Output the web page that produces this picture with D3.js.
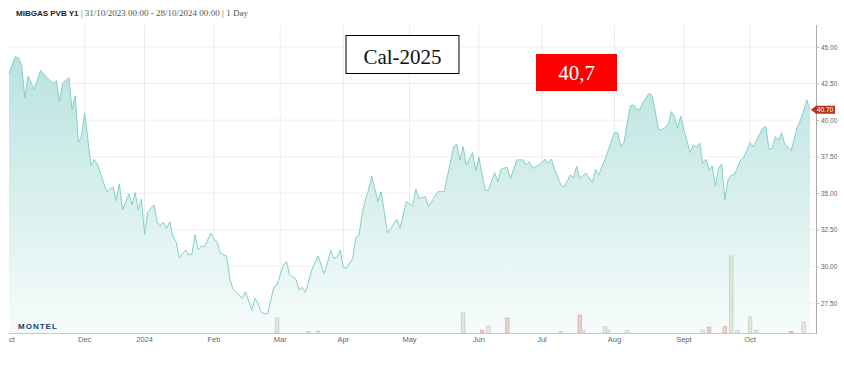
<!DOCTYPE html>
<html>
<head>
<meta charset="utf-8">
<script src="https://cdn.jsdelivr.net/npm/d3@7"></script>
<style>
  html, body { margin: 0; padding: 0; background: #fff; }
  svg { display: block; }
</style>
</head>
<body>
<div id="chart"></div>
<script>
// MIBGAS PVB Y1 (Cal-2025), daily settlement, trading-session index from 31/10/2023
const days = [0,2,3,4,5,6,8,10,12,14,15,16,17,19,20,21,22,23,24,26,27,28,31,33,34,35,36,38,39,40,41,42,43,44,46,47,
  48,49,50,51,52,53,54,56,57,58,59,60,61,62,64,65,66,67,69,70,71,74,75,77,78,79,80,82,84,85,87,88,89,91,92,93,94,96,98,
  100,102,103,104,105,106,107,109,110,111,112,113,114,115,117,118,119,120,123,124,126,128,129,130,132,133,136,138,
  141,142,143,144,145,147,148,149,151,152,154,155,156,158,159,161,163,164,165,166,168,170,171,172,173,175,176,178,179,
  180,181,183,185,186,187,189,192,193,194,195,197,198,199,200,201,203,204,206,207,209,210,211,212,213,214,216,217,218,
  219,220,221,222,223,224,225,226,227,228,229,230,232,233,235,236,239,240,241,242,243,244,245,246,248,250,251,253,254];
const prices = [43.2,44.34,44.25,43.77,41.5,43.0,42.1,43.4,42.9,42.5,42.7,41.3,42.5,42.9,40.7,41.65,38.5,38.87,40.5,36.93,37.3,37.0,35.1,35.45,34.5,35.64,33.86,34.95,34.2,35.04,33.86,34.6,32.2,33.74,34.2,33.0,
  32.83,32.99,32.6,33.06,32.03,31.69,30.6,31.13,30.78,30.85,32.15,31.13,31.4,31.35,32.27,31.86,31.69,30.9,30.7,29.2,28.44,27.82,28.27,27.0,27.82,27.43,26.84,26.75,28.6,28.73,30.1,30.33,29.42,29.12,28.39,28.57,28.2,29.76,30.71,
  29.48,31.08,30.56,30.63,31.12,29.94,29.87,30.56,31.99,32.15,33.63,34.54,35.22,36.18,34.43,35.11,33.74,32.27,33.22,32.6,34.43,34.13,35.27,34.66,34.77,34.08,35.11,35.11,
  38.19,38.37,37.28,38.19,36.93,37.78,36.55,37.46,35.22,35.18,36.41,35.79,36.64,36.78,35.98,37.28,37.28,36.93,37.16,36.71,36.93,37.32,37.05,37.34,36.64,35.57,35.41,36.25,36.02,
  36.87,36.02,36.37,35.72,36.64,36.25,37.32,39.14,39.14,38.19,38.46,40.97,41.04,40.74,40.74,41.2,41.84,41.65,39.33,39.33,39.67,40.58,40.24,39.44,40.28,39.33,37.78,38.3,38.14,
  38.42,37.05,37.32,36.59,36.87,35.5,36.71,37.0,34.54,35.91,36.25,36.25,37.28,37.46,38.46,38.19,39.44,39.56,38.0,38.08,38.87,38.64,39.14,38.37,37.91,39.56,40.0,41.38,40.7];

// traded volume (arbitrary units), kind: g = up, r = down, n = neutral
const volDays = [85,95,98,144,150,152,158,175,181,182,189,190,196,220,222,227,229,231,235,237,248,252];
const volumes = [15,1.5,2,20,3,6.5,15,1.5,18,3,6.5,3,2.5,3,6,6.5,77,2.5,16,2.5,1.5,11];
const volKinds = ['g','n','n','g','r','n','r','n','r','n','n','n','n','n','r','r','g','n','g','n','r','n'];

const monthTicks = [0,24,43,65,86,106,127,149,169,192,214,235];
const monthLabels = ['Oct','Dec','2024','Feb','Mar','Apr','May','Jun','Jul','Aug','Sept','Oct'];
const priceTicks = [27.5,30,32.5,35,37.5,40,42.5,45];

const lastPrice = 40.7;
const contract = 'Cal-2025';

const W = 844, H = 370;
const pL = 9, pR = 816, pT = 25, pB = 333;

const svg = d3.select('#chart').append('svg').attr('width', W).attr('height', H);

const x = d3.scaleLinear().domain([0, 254]).range([pL, 810]);
const y = d3.scaleLinear().domain([25.45, 46.5]).range([pB, pT]);
const v = d3.scaleLinear().domain([0, 80]).range([0, 80]);

const defs = svg.append('defs');
const grad = defs.append('linearGradient').attr('id', 'fillGrad')
  .attr('gradientUnits', 'userSpaceOnUse').attr('x1', 0).attr('x2', 0).attr('y1', pT).attr('y2', pB);
grad.append('stop').attr('offset', '0%').attr('stop-color', '#b2e0dc');
grad.append('stop').attr('offset', '100%').attr('stop-color', '#f6fcfb');
defs.append('clipPath').attr('id', 'xclip').append('rect')
  .attr('x', pL).attr('y', pB).attr('width', W - pL).attr('height', 20);

// title
const title = svg.append('text').attr('x', 16).attr('y', 16).attr('font-size', 8);
title.append('tspan').attr('font-family', 'Liberation Sans, Arial, sans-serif').attr('font-weight', 'bold')
  .attr('fill', '#222').text('MIBGAS PVB Y1');
title.append('tspan').attr('font-family', 'Liberation Serif, serif').attr('font-size', 9)
  .attr('fill', '#555').text(' | 31/10/2023 00:00 - 28/10/2024 00:00 | 1 Day');

// grid
svg.append('g').selectAll('line').data(priceTicks).join('line')
  .attr('x1', pL).attr('x2', pR).attr('y1', d => y(d)).attr('y2', d => y(d))
  .attr('stroke', '#f0f0f0').attr('stroke-width', 1);
svg.append('g').selectAll('line').data(monthTicks.slice(1)).join('line')
  .attr('x1', d => x(d)).attr('x2', d => x(d)).attr('y1', pT).attr('y2', pB)
  .attr('stroke', '#ececec').attr('stroke-width', 1);

// area + line
const pts = days.map((d, i) => [d, prices[i]]);
svg.append('path').datum(pts)
  .attr('fill', 'url(#fillGrad)')
  .attr('d', d3.area().x(d => x(d[0])).y0(pB).y1(d => y(d[1])));
svg.append('path').datum(pts)
  .attr('fill', 'none').attr('stroke', '#86cfc6').attr('stroke-width', 1)
  .attr('d', d3.line().x(d => x(d[0])).y(d => y(d[1])));

// volume bars
const volFill = { g: '#dde9da', r: '#ecd0cc', n: '#e8e8e8' };
const volStroke = { g: '#b9ceb5', r: '#d6aaa4', n: '#c9c9c9' };
svg.append('g').selectAll('rect').data(volDays).join('rect')
  .attr('x', d => x(d) - 1.8).attr('width', 3.6)
  .attr('y', (d, i) => pB - v(volumes[i])).attr('height', (d, i) => v(volumes[i]))
  .attr('fill', (d, i) => volFill[volKinds[i]]).attr('stroke', (d, i) => volStroke[volKinds[i]])
  .attr('stroke-width', 0.7);

// logo
svg.append('text').attr('x', 18).attr('y', 329).attr('font-family', 'Liberation Sans, Arial, sans-serif')
  .attr('font-weight', 'bold').attr('font-size', 8).attr('letter-spacing', 1)
  .attr('fill', '#22386a').text('MONTEL');

// x axis
svg.append('line').attr('x1', pL).attr('x2', pR).attr('y1', pB + 0.5).attr('y2', pB + 0.5)
  .attr('stroke', '#c8c8c8');
svg.append('g').attr('clip-path', 'url(#xclip)').selectAll('text').data(monthTicks).join('text')
  .attr('x', d => x(d)).attr('y', 342).attr('text-anchor', 'middle')
  .attr('font-family', 'Liberation Sans, Arial, sans-serif').attr('font-size', 7.5).attr('fill', '#666')
  .text((d, i) => monthLabels[i]);

// y axis (right)
const yAxis = svg.append('g').attr('transform', `translate(${pR},0)`)
  .call(d3.axisRight(y).tickValues(priceTicks).tickSize(3).tickFormat(d3.format('.2f')));
yAxis.select('.domain').attr('stroke', '#aaa').attr('d', `M0.5,${pT}V${pB + 1}`);
yAxis.selectAll('.tick line').attr('stroke', '#bbb');
yAxis.selectAll('.tick text').attr('font-family', 'Liberation Sans, Arial, sans-serif')
  .attr('font-size', 6.5).attr('fill', '#666').attr('x', 5);

// last price tag
const ty = y(lastPrice);
svg.append('path').attr('fill', '#b8321f')
  .attr('d', `M${pR - 5},${ty}L${pR},${ty - 4}H${pR + 19}V${ty + 4}H${pR}Z`);
svg.append('text').attr('x', pR + 9).attr('y', ty + 2.3).attr('text-anchor', 'middle')
  .attr('font-family', 'Liberation Sans, Arial, sans-serif').attr('font-size', 6.5).attr('fill', '#fff')
  .text(d3.format('.2f')(lastPrice));

// annotations
svg.append('rect').attr('x', 346).attr('y', 35.5).attr('width', 113).attr('height', 38)
  .attr('fill', '#fff').attr('stroke', '#000').attr('stroke-width', 1);
svg.append('text').attr('x', 402.5).attr('y', 64).attr('text-anchor', 'middle')
  .attr('font-family', 'Liberation Serif, serif').attr('font-size', 21).attr('fill', '#111').text(contract);
svg.append('rect').attr('x', 536).attr('y', 54).attr('width', 81).attr('height', 37).attr('fill', '#ff0000');
svg.append('text').attr('x', 576.5).attr('y', 80).attr('text-anchor', 'middle')
  .attr('font-family', 'Liberation Serif, serif').attr('font-size', 21).attr('fill', '#fff')
  .text(String(lastPrice).replace('.', ','));
</script>
</body>
</html>
